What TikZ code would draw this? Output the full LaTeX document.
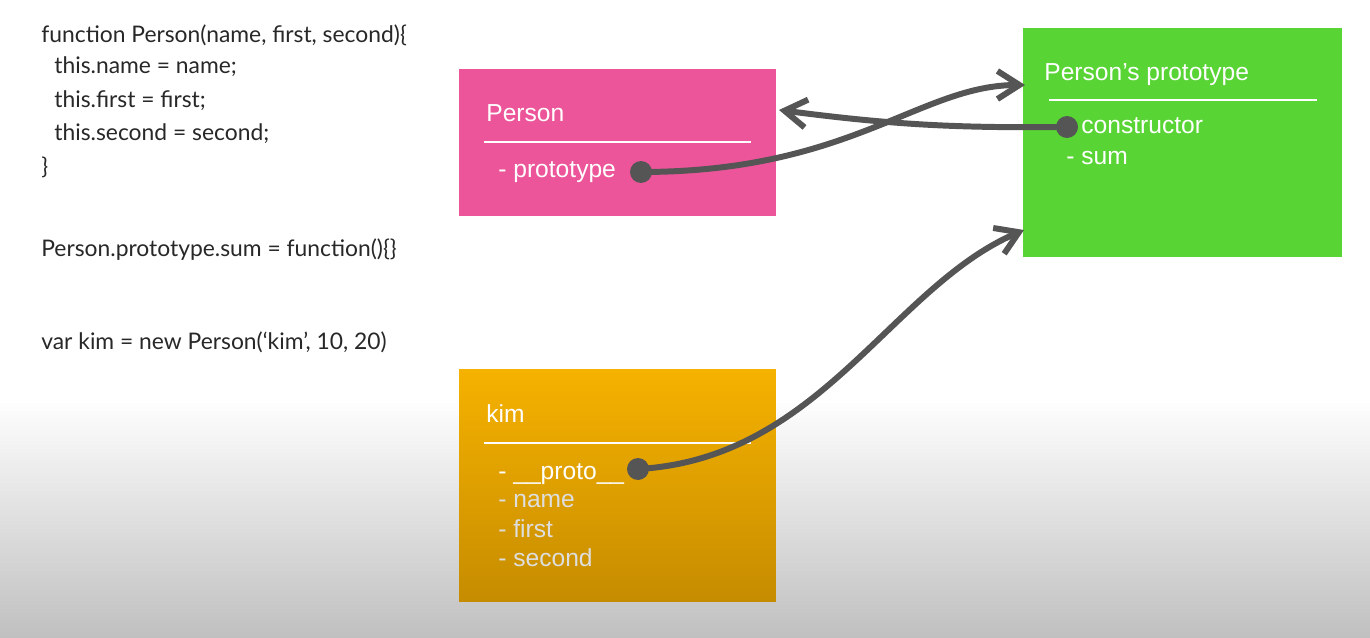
\documentclass[tikz,border=0pt]{standalone}
\usepackage{fontspec}
\setmainfont{Liberation Sans}
\newfontfamily\codefont{Lato}
\usetikzlibrary{arrows.meta}
\usetikzlibrary{positioning}

\definecolor{personpink}{RGB}{236,85,153}
\definecolor{protogreen}{RGB}{88,212,52}
\definecolor{kimtop}{RGB}{246,178,0}
\definecolor{kimbottom}{RGB}{198,140,0}
\definecolor{linkgray}{RGB}{85,85,85}
\definecolor{codegray}{RGB}{40,40,40}
\definecolor{bggray}{RGB}{192,192,192}

\tikzset{
      box/.style={inner sep=0, outer sep=0, anchor=north west},
      title/.style={anchor=west, inner sep=0, text=white, font=\fontsize{14}{16}\selectfont},
      kimitem/.style={title, text=white!87!black},
      divider/.style={draw=white, line width=0.9},
      ptr/.style={circle, fill=linkgray, inner sep=0, minimum size=0.44cm},
      link/.style={draw=linkgray, line width=3.4pt, -{Straight Barb[length=0.44cm, width=0.56cm]}},
      code/.style={anchor=west, inner sep=0, text=codegray, font=\codefont\fontsize{13}{15}\selectfont},
}

\begin{document}
\begin{tikzpicture}[x=0.02cm, y=0.02cm]
        % background
        \fill[white] (0,0) rectangle (1370,637);
        \fill[top color=white, bottom color=bggray] (0,0) rectangle (1370,240);

        % Draw the code
        \node[code] (line1) at (41,602) {function Person(name, first, second)\{};
        \node[code] (line2) at (54,570) {this.name = name;};
        \node[code] (line3) at (54,536) {this.first = first;};
        \node[code] (line4) at (54,503) {this.second = second;};
        \node[code] (line5) at (41,470) {\}};
        \node[code] (sumline) at (41,387) {Person.prototype.sum = function()\{\}};
        \node[code] (kimline) at (41,295) {var kim = new Person(‘kim’, 10, 20)};

        % Draw the boxes
        \node[box, fill=personpink, minimum width=6.34cm, minimum height=2.94cm] (person) at (459,568) {};
        \node[box, fill=protogreen, minimum width=6.38cm, minimum height=4.58cm] (proto) at (1023,609) {};
        \node[box, top color=kimtop, bottom color=kimbottom, minimum width=6.34cm, minimum height=4.66cm] (kim) at (459,268) {};

        % Person
        \node[title] (persontitle) at (486,524) {Person};
        \draw[divider] (484,495) -- (751,495);
        \node[title] (prototype) at (498,465) {- prototype};
        \node[ptr] (protodot) at (641,465) {};

        % Person's prototype
        \node[title] (prototitle) at (1044,562) {Person’s prototype};
        \draw[divider] (1049,537) -- (1317,537);
        \node[ptr] (ctordot) at (1067,510) {};
        \node[title] (ctor) at (1081,511) {constructor};
        \node[title] (sum) at (1066,479) {- sum};

        % kim
        \node[title] (kimtitle) at (486,223) {kim};
        \draw[divider] (484,194) -- (751,194);
        \node[title] (kimproto) at (498,163) {- \_\_proto\_\_};
        \node[ptr] (kimdot) at (638,168) {};
        \node[kimitem] (kimname) at (498,136) {- name};
        \node[kimitem] (kimfirst) at (498,108) {- first};
        \node[kimitem] (kimsecond) at (498,79) {- second};

        % Draw the links
        \coordinate (personin) at (779,527);
        \coordinate (protoin) at (1025,552);
        \coordinate (protoin2) at (1024,407);
        \draw[link] (ctordot.center) to[bend left=4] (personin);
        \draw[link] (protodot.center) .. controls +(210,0) and +(-105,0) .. (protoin);
        \draw[link] (kimdot.center) .. controls +(182,10) and +(-133,-57) .. (protoin2);

    \end{tikzpicture}
\end{document}
